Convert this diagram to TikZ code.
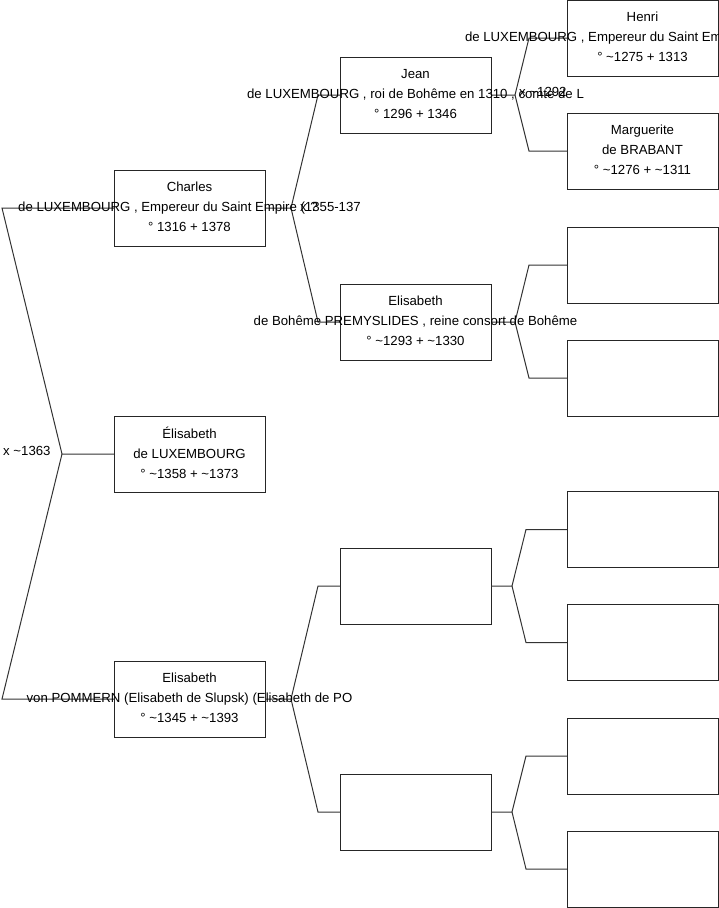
\documentclass[tikz,border=0pt]{standalone}
\usepackage{fontspec}
\setmainfont{Liberation Sans}
\begin{document}
\begin{tikzpicture}[x=1pt,y=-1pt,
  box/.style={draw=black!85, line width=1pt, minimum width=151pt, minimum height=76pt, inner sep=0pt, outer sep=0pt},
  txt/.style={align=center, font=\fontsize{13.2}{20}\selectfont, inner sep=0pt, yshift=1pt},
  mlabel/.style={font=\fontsize{13.2}{16}\selectfont, inner sep=0pt, anchor=west},
  link/.style={draw=black!80, line width=1pt}]
\useasboundingbox (0,0) rectangle (719,908);
\clip (0,0) rectangle (719,908);

% generation 1
\node[box] (charles) at (189.5,208) {};
\node[box] (eli) at (189.5,454) {};
\node[box] (pom) at (189.5,699) {};
% generation 2
\node[box] (jean) at (415.5,95) {};
\node[box] (eboh) at (415.5,322) {};
\node[box] (ga) at (415.5,586) {};
\node[box] (gb) at (415.5,812) {};
% generation 3
\node[box] (henri) at (642.5,38) {};
\node[box] (marg) at (642.5,151) {};
\node[box] (h3) at (642.5,265) {};
\node[box] (h4) at (642.5,378) {};
\node[box] (h5) at (642.5,529.5) {};
\node[box] (h6) at (642.5,642.5) {};
\node[box] (h7) at (642.5,756) {};
\node[box] (h8) at (642.5,869) {};

% connectors: root
\coordinate (v0) at (62,454);
\coordinate (v0a) at (2,208);
\coordinate (v0b) at (2,699);
\draw[link] (eli.west) -- (v0) -- (v0a) -- (charles.west);
\draw[link] (v0) -- (v0b) -- (pom.west);
% Charles
\coordinate (v1) at (291,208);
\coordinate (v1a) at (318,95);
\coordinate (v1b) at (318,322);
\draw[link] (charles.east) -- (v1) -- (v1a) -- (jean.west);
\draw[link] (v1) -- (v1b) -- (eboh.west);
% Pommern
\coordinate (v2) at (291,699);
\coordinate (v2a) at (318,586);
\coordinate (v2b) at (318,812);
\draw[link] (pom.east) -- (v2) -- (v2a) -- (ga.west);
\draw[link] (v2) -- (v2b) -- (gb.west);
% Jean
\coordinate (v3) at (515,95);
\coordinate (v3a) at (529,38);
\coordinate (v3b) at (529,151);
\draw[link] (jean.east) -- (v3) -- (v3a) -- (henri.west);
\draw[link] (v3) -- (v3b) -- (marg.west);
% Elisabeth de Boheme
\coordinate (v4) at (515,322);
\coordinate (v4a) at (529,265);
\coordinate (v4b) at (529,378);
\draw[link] (eboh.east) -- (v4) -- (v4a) -- (h3.west);
\draw[link] (v4) -- (v4b) -- (h4.west);
% empty gen 2 a
\coordinate (v5) at (512,586);
\coordinate (v5a) at (526,529.5);
\coordinate (v5b) at (526,642.5);
\draw[link] (ga.east) -- (v5) -- (v5a) -- (h5.west);
\draw[link] (v5) -- (v5b) -- (h6.west);
% empty gen 2 b
\coordinate (v6) at (512,812);
\coordinate (v6a) at (526,756);
\coordinate (v6b) at (526,869);
\draw[link] (gb.east) -- (v6) -- (v6a) -- (h7.west);
\draw[link] (v6) -- (v6b) -- (h8.west);

% texts
\node[txt] (charlesT) at (charles) {Charles\\de LUXEMBOURG , Empereur du Saint Empire (1355-137\\° 1316 + 1378};
\node[txt] (eliT) at (eli) {Élisabeth\\de LUXEMBOURG\\° \textasciitilde1358 + \textasciitilde1373};
\node[txt] (pomT) at (pom) {Elisabeth\\von POMMERN (Elisabeth de Slupsk) (Elisabeth de PO\\° \textasciitilde1345 + \textasciitilde1393};
\node[txt] (jeanT) at (jean) {Jean\\de LUXEMBOURG , roi de Bohême en 1310 , comte de L\\° 1296 + 1346};
\node[txt] (ebohT) at (eboh) {Elisabeth\\de Bohême PREMYSLIDES , reine consort de Bohême\\° \textasciitilde1293 + \textasciitilde1330};
\node[txt] (henriT) at (henri) {Henri\\\makebox[355pt][l]{de LUXEMBOURG , Empereur du Saint Em}\\° \textasciitilde1275 + 1313};
\node[txt] (margT) at (marg) {Marguerite\\de BRABANT\\° \textasciitilde1276 + \textasciitilde1311};

% marriage labels
\node[mlabel] (m0) at (3,451) {x \textasciitilde1363};
\node[mlabel] (m1) at (300,207) {x ?};
\node[mlabel] (m2) at (519,92) {x \textasciitilde1292};
\end{tikzpicture}
\end{document}
